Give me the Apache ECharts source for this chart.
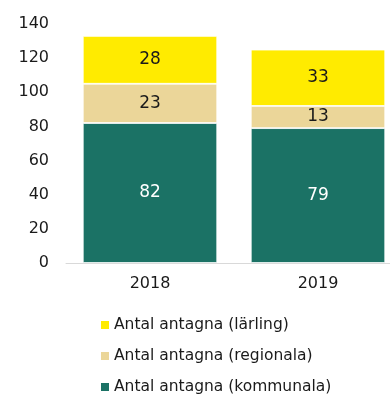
<!DOCTYPE html>
<html>
<head>
<meta charset="utf-8">
<script src="https://cdn.jsdelivr.net/npm/echarts@6/dist/echarts.min.js"></script>
<style>
  html, body { margin: 0; padding: 0; background: #fff; }
  #chart { width: 390px; height: 397px; }
</style>
</head>
<body>
<div id="chart"></div>
<script>
// Antagna per år, uppdelat på typ av utbildning
const years = ['2018', '2019'];
const kommunala = [82, 79];
const regionala = [23, 13];
const larling = [28, 33];
const yTicks = [0, 20, 40, 60, 80, 100, 120, 140];

const FONT = 'DejaVu Sans';
const chart = echarts.init(document.getElementById('chart'));

function seg(name, data, color, labelColor) {
  return {
    name: name,
    type: 'bar',
    stack: 'total',
    data: data,
    barCategoryGap: '20%',
    itemStyle: { color: color, borderColor: '#ffffff', borderWidth: 0.8 },
    label: {
      show: true,
      position: 'inside',
      color: labelColor,
      fontFamily: FONT,
      fontSize: 17
    },
    emphasis: { disabled: true }
  };
}

chart.setOption({
  animation: false,
  textStyle: { fontFamily: FONT },
  grid: { left: 66, right: -12, top: 24, bottom: 134, outerBoundsMode: 'none', containLabel: false },
  xAxis: {
    type: 'category',
    data: years,
    axisLine: { lineStyle: { color: '#d9d9d9', width: 1 } },
    axisTick: { show: false },
    axisLabel: { color: '#1a1a1a', fontSize: 16, fontFamily: FONT, margin: 13 }
  },
  yAxis: {
    type: 'value',
    min: yTicks[0],
    max: yTicks[yTicks.length - 1],
    interval: 20,
    splitLine: { show: false },
    axisLine: { show: false },
    axisTick: { show: false },
    axisLabel: { color: '#1a1a1a', fontSize: 16, fontFamily: FONT, margin: 17 }
  },
  legend: {
    orient: 'vertical',
    left: 99,
    top: 317,
    height: 90,
    padding: 0,
    itemWidth: 10,
    itemHeight: 10,
    itemGap: 15,
    icon: 'rect',
    textStyle: { color: '#1a1a1a', fontSize: 15.5, fontFamily: FONT, padding: [0, 0, 0, -1] },
    data: ['Antal antagna (lärling)', 'Antal antagna (regionala)', 'Antal antagna (kommunala)']
  },
  series: [
    seg('Antal antagna (kommunala)', kommunala, '#1b7265', '#ffffff'),
    seg('Antal antagna (regionala)', regionala, '#ebd699', '#1a1a1a'),
    seg('Antal antagna (lärling)', larling, '#ffeb00', '#1a1a1a')
  ]
});
</script>
</body>
</html>
